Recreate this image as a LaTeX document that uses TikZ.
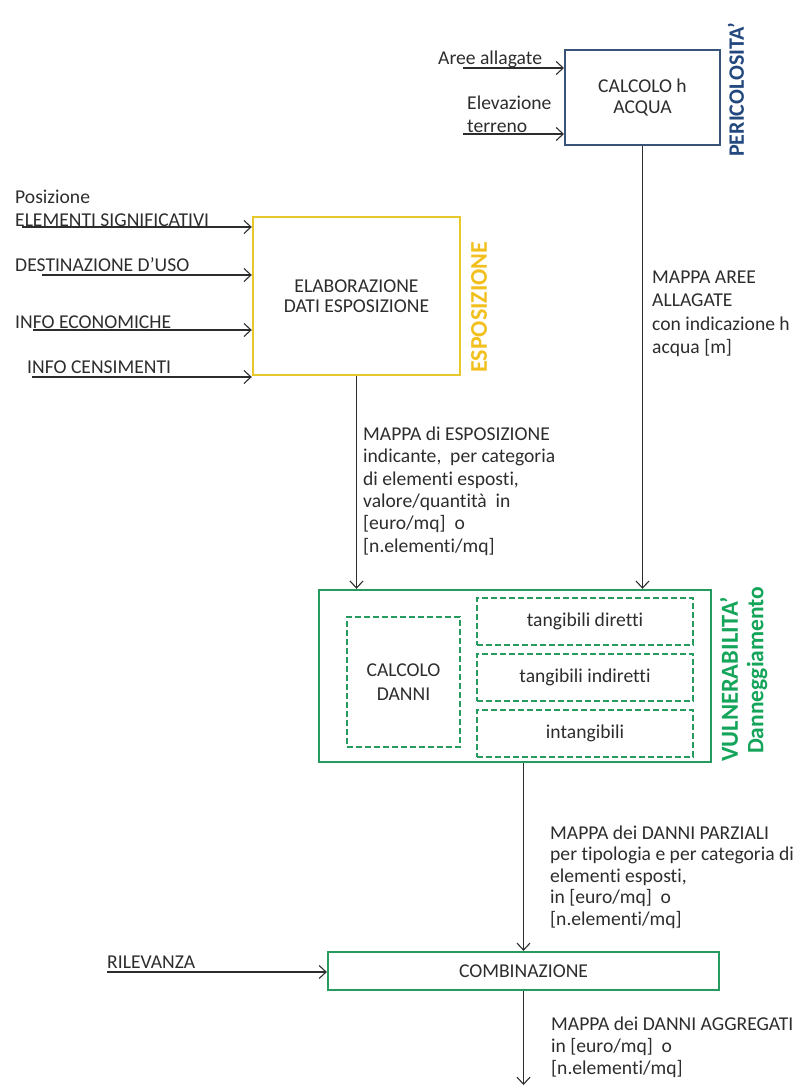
\documentclass[tikz,border=0pt]{standalone}
\usepackage{fontspec}
\setmainfont{Carlito}[Ligatures=NoCommon]
\usetikzlibrary{arrows.meta}

\definecolor{ink}{RGB}{45,45,45}
\definecolor{hazard}{RGB}{56,84,120}
\definecolor{hazardtxt}{RGB}{35,72,125}
\definecolor{expo}{RGB}{232,200,40}
\definecolor{expotxt}{RGB}{242,192,30}
\definecolor{vuln}{RGB}{38,155,95}
\definecolor{vulntxt}{RGB}{20,165,90}

\begin{document}
\begin{tikzpicture}[x=1pt,y=-1pt,
  txt/.style={font=\fontsize{19.6}{22.5}\selectfont, text=ink, inner sep=0pt, align=left},
  boxtxt/.style={font=\fontsize{19.6}{22}\selectfont, text=ink, align=center, inner sep=0pt},
  vlab/.style={rotate=90, anchor=west, inner sep=0pt},
  flow/.style={draw=ink, line width=1.1pt,
    -{Straight Barb[length=7pt,width=13pt,line width=1.1pt]}},
  hazardbox/.style={boxtxt, draw=hazard, line width=2pt},
  expobox/.style={boxtxt, draw=expo, line width=2.4pt},
  vulnbox/.style={draw=vuln, line width=2.4pt, inner sep=0pt},
  dashbox/.style={boxtxt, draw=vuln, line width=1.8pt, dash pattern=on 6pt off 3pt},
]
\useasboundingbox (0,0) rectangle (796,1086);

% ---- hazard: water depth ----
\node[hazardbox, minimum width=155, minimum height=95] (calc) at (642.5,97.5)
  {CALCOLO h\\[-1pt]ACQUA};
\node[vlab, text=hazardtxt, font=\fontsize{22}{24}\selectfont\bfseries] (lper) at (736,157) {PERICOLOSITA’};

\node[txt, anchor=west] (tA) at (438,59) {Aree allagate};
\node[txt, anchor=west] (tB) at (467,114.5) {Elevazione\\terreno};
\coordinate (inA) at (463,68);
\coordinate (inB) at (463,134);
\draw[flow] (inA) -- (inA -| calc.west);
\draw[flow] (inB) -- (inB -| calc.west);

% ---- exposure ----
\node[expobox, minimum width=207, minimum height=158] (elab) at (356.5,296)
  {ELABORAZIONE\\[-1.5pt]DATI ESPOSIZIONE};
\node[vlab, text=expotxt, font=\fontsize{24}{26}\selectfont\bfseries] (lexp) at (479,373) {ESPOSIZIONE};

\node[txt, anchor=west] (t1) at (15,208.5) {Posizione\\ELEMENTI SIGNIFICATIVI};
\node[txt, anchor=west] (t2) at (15,265) {DESTINAZIONE D’USO};
\node[txt, anchor=west] (t3) at (15,322) {INFO ECONOMICHE};
\node[txt, anchor=west] (t4) at (27,367) {INFO CENSIMENTI};
\coordinate (in1) at (22,227);
\coordinate (in2) at (42,275);
\coordinate (in3) at (33,330);
\coordinate (in4) at (32,377);
\foreach \c in {in1,in2,in3,in4}
  \draw[flow] (\c) -- (\c -| elab.west);

% ---- vulnerability / damage ----
\node[vulnbox, minimum width=392, minimum height=172] (vul) at (515,676) {};
\node[dashbox, minimum width=113, minimum height=130] (cd) at (403.5,682)
  {CALCOLO\\[2pt]DANNI};
\node[dashbox, minimum width=216, minimum height=47] (d1) at (585,621.5) {tangibili diretti};
\node[dashbox, minimum width=216, minimum height=47] (d2) at (585,677.5) {tangibili indiretti};
\node[dashbox, minimum width=216, minimum height=47] (d3) at (585,733.5) {intangibili};
\node[vlab, text=vulntxt, font=\fontsize{24.5}{26}\selectfont\bfseries] (lvul) at (729,762) {VULNERABILITA’};
\node[vlab, text=vulntxt, font=\fontsize{23.5}{26}\selectfont\bfseries] (ldan) at (757,754) {Danneggiamento};

% maps feeding the damage computation
\draw[flow] (elab.south) -- (elab.south |- vul.north);
\draw[flow] (calc.south) -- (calc.south |- vul.north);

\node[txt, anchor=north west, font=\fontsize{19.6}{23.5}\selectfont] (mA) at (652,270.5)
  {MAPPA AREE\\ALLAGATE\\con indicazione h\\acqua [m]};
\node[txt, anchor=north west, font=\fontsize{19.6}{22.4}\selectfont] (mE) at (363,426.5)
  {MAPPA di ESPOSIZIONE\\indicante,\ \ per categoria\\di elementi esposti,\\valore/quantità\ \ in\\{}[euro/mq]\ \ o\\{}[n.elementi/mq]};

% ---- combination ----
\node[boxtxt, draw=vuln, line width=2.2pt, minimum width=391, minimum height=38] (comb)
  at (523.5,971) {COMBINAZIONE};
\draw[flow] (vul.south -| comb.north) -- (comb.north);

\node[txt, anchor=north west, font=\fontsize{19.6}{21.5}\selectfont] (mP) at (550,825.5)
  {MAPPA dei DANNI PARZIALI\\per tipologia e per categoria di\\elementi esposti,\\in [euro/mq]\ \ o\\{}[n.elementi/mq]};

\node[txt, anchor=west] (tR) at (107,962) {RILEVANZA};
\coordinate (inR) at (107,972);
\draw[flow] (inR) -- (inR -| comb.west);

\coordinate (out) at (523.5,1085);
\draw[flow] (comb.south) -- (out);
\node[txt, anchor=north west, font=\fontsize{19.6}{22}\selectfont] (mG) at (551,1016.5)
  {MAPPA dei DANNI AGGREGATI\\in [euro/mq]\ \ o\\{}[n.elementi/mq]};
\end{tikzpicture}
\end{document}
